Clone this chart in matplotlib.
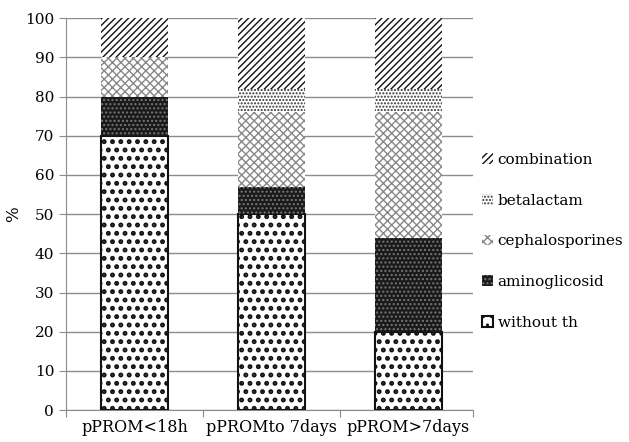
import matplotlib
matplotlib.use("Agg")
import matplotlib.pyplot as plt
import numpy as np

plt.rcParams['font.family'] = ['DejaVu Serif']
plt.rcParams['hatch.linewidth'] = 1.0

categories = ['pPROM<18h', 'pPROMto 7days', 'pPROM>7days']
without_th = [70, 50, 20]
aminoglicosid = [10, 7, 24]
cephalosporines = [10, 19, 32]
betalactam = [0, 6, 6]
combination = [10, 18, 18]

# name, values, bar style, hatch line width
series = [
    ('without th', without_th, dict(facecolor='white', edgecolor='#111111', hatch='..', linewidth=1.5), 2.3),
    ('aminoglicosid', aminoglicosid, dict(facecolor='#1a1a1a', edgecolor='#777777', hatch='....', linewidth=0), 1.0),
    ('cephalosporines', cephalosporines, dict(facecolor='white', edgecolor='#888888', hatch='xxxx', linewidth=0), 1.0),
    ('betalactam', betalactam, dict(facecolor='white', edgecolor='#333333', hatch='.....', linewidth=0), 1.0),
    ('combination', combination, dict(facecolor='white', edgecolor='#111111', hatch='/////', linewidth=0), 1.0),
]

fig = plt.figure(figsize=(6.29, 4.42), dpi=100)
ax = fig.add_axes([0.105, 0.072, 0.647, 0.887])

x = np.arange(len(categories))
bottom = np.zeros(len(categories))
handles = []
for name, vals, style, hlw in series:
    with plt.rc_context({'hatch.linewidth': hlw}):
        b = ax.bar(x, vals, width=0.49, bottom=bottom, label=name, zorder=3, **style)
    handles.append(b)
    bottom += np.array(vals)

ax.set_ylim(0, 100)
ax.set_xlim(-0.453, 2.475)
ax.set_yticks(np.arange(0, 101, 10))
ax.yaxis.grid(True, color='#8c8c8c', linewidth=1.0, zorder=0)
ax.set_axisbelow(True)

ax.set_xticks([-0.5, 0.5, 1.5, 2.475])
ax.set_xticklabels([])
ax.set_xticks(x, minor=True)
ax.set_xticklabels(categories, minor=True, fontsize=11.5)
ax.tick_params(axis='x', which='minor', length=0, pad=6)
ax.tick_params(axis='x', which='major', length=5, color='#8c8c8c')
ax.tick_params(axis='y', length=5, color='#8c8c8c', labelsize=11)

for s in ['top', 'right']:
    ax.spines[s].set_visible(False)
for s in ['left', 'bottom']:
    ax.spines[s].set_color('#8c8c8c')

ax.set_ylabel('%', fontsize=12, labelpad=2)

with plt.rc_context({'hatch.linewidth': 1.0}):
    leg = fig.legend(handles[::-1], [h.get_label() for h in handles[::-1]],
                     loc='center left', bbox_to_anchor=(0.745, 0.454),
                     frameon=False, fontsize=11, handlelength=0.7, handleheight=0.7,
                     handletextpad=0.3, labelspacing=1.75)

fig.savefig('out.png', dpi=100)
